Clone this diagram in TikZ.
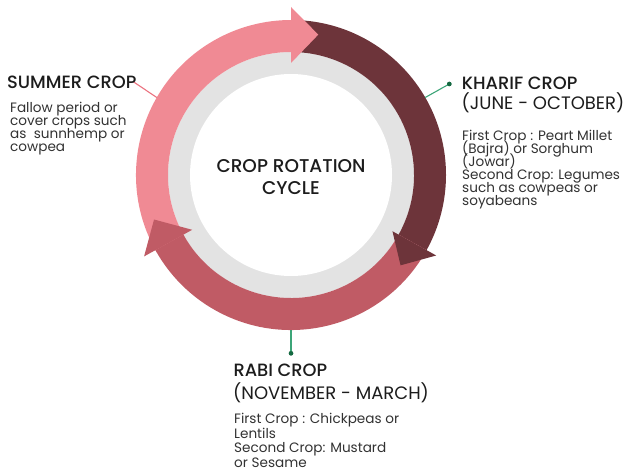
\documentclass[tikz,border=0pt]{standalone}
\usepackage{fontspec}
\setmainfont{Poppins}
\newfontfamily\headf{Poppins Medium}
\newcommand\mytightlines{\lineskiplimit=-100pt\relax\lineskip=0pt\relax}
\definecolor{pinkA}{RGB}{240,138,148}
\definecolor{maroonA}{RGB}{109,52,58}
\definecolor{redA}{RGB}{192,91,101}
\definecolor{ringgray}{RGB}{227,227,227}
\definecolor{txt}{RGB}{28,28,28}
\definecolor{bodytxt}{RGB}{50,50,50}
\definecolor{leadgreen}{RGB}{60,165,120}
\definecolor{dotgreen}{RGB}{20,105,65}
\definecolor{leadpink}{RGB}{235,115,128}
\begin{document}
\begin{tikzpicture}[x=1pt,y=1pt,
  headtxt/.style={font=\headf\fontsize{17.8}{20}\selectfont, text=txt, inner sep=0, anchor=base west},
  subtxt/.style={font=\fontsize{18}{20}\selectfont, text=txt, inner sep=0, anchor=base west},
  bodytext/.style={text=bodytxt, inner sep=0, anchor=base west, align=left},
  dotn/.style={circle, fill=dotgreen, inner sep=0, minimum size=4.5pt},
  leadline/.style={line width=1.1pt}]
\useasboundingbox (0,0) rectangle (628,472);
\coordinate (C) at (291,297);
% rings
\fill[ringgray] (C) circle (123);
\fill[white] (C) circle (101);
% bands
\fill[pinkA] ([shift={(210:155)}]C) arc[start angle=210,end angle=90,radius=155]
  -- ([shift={(90:123)}]C) arc[start angle=90,end angle=210,radius=123] -- cycle;
\fill[maroonA] ([shift={(90:155)}]C) arc[start angle=90,end angle=-29,radius=155]
  -- ([shift={(-29:123)}]C) arc[start angle=-29,end angle=90,radius=123] -- cycle;
\fill[redA] ([shift={(-29:155)}]C) arc[start angle=-29,end angle=-151,radius=155]
  -- ([shift={(-151:123)}]C) arc[start angle=-151,end angle=-29,radius=123] -- cycle;
% heads
\fill[pinkA] ([shift={(90:168)}]C) -- ([shift={(79:143)}]C) -- ([shift={(90:112)}]C) -- cycle;
\fill[maroonA] ([shift={(-29:166)}]C) -- ([shift={(-39.5:142)}]C) -- ([shift={(-29:116)}]C) -- cycle;
\fill[redA] ([shift={(-151:168)}]C) -- ([shift={(-162:144)}]C) -- ([shift={(-151:113)}]C) -- cycle;
% centre text
\node[font=\headf\fontsize{18.5}{21.3}\selectfont, text=txt, align=center, anchor=base, inner sep=0] (title) at (291,278) {CROP ROTATION\\CYCLE};
% leader lines
\coordinate (sumA) at ([shift={(150:155)}]C);
\coordinate (sumB) at (133.3,390.3);
\draw[leadline, leadpink] (sumA) -- (sumB);
\coordinate (kharA) at ([shift={(30:155)}]C);
\node[dotn] (kharD) at (449.3,388) {};
\draw[leadline, leadgreen] (kharA) -- (kharD.center);
\node[dotn] (kharD2) at (449.3,388) {};
\coordinate (rabiA) at ([shift={(270:155)}]C);
\node[dotn] (rabiD) at (291,118.7) {};
\draw[leadline, leadgreen] (rabiA) -- (rabiD.center);
\node[dotn] (rabiD2) at (291,118.7) {};
% texts
\node[headtxt] (sumH) at (7,383.7) {SUMMER CROP};
\node[bodytext, font=\fontsize{13.6}{13.2}\selectfont\mytightlines] (sumB2) at (10,320.3) {Fallow period or\\cover crops such\\as\ \ sunnhemp or\\cowpea};
\node[headtxt] (kharH) at (461.7,382) {KHARIF CROP};
\node[subtxt] (kharS) at (461.5,362) {(JUNE - OCTOBER)};
\node[bodytext, font=\fontsize{13.6}{13}\selectfont\mytightlines] (kharB) at (462,266.5) {First Crop : Peart Millet\\(Bajra) or Sorghum\\(Jowar)\\Second Crop: Legumes\\such as cowpeas or\\soyabeans};
\node[headtxt] (rabiH) at (233.3,96) {RABI CROP};
\node[subtxt] (rabiS) at (233,72.7) {(NOVEMBER - MARCH)};
\node[bodytext, font=\fontsize{13.6}{14.6}\selectfont\mytightlines] (rabiB) at (234,4.5) {First Crop : Chickpeas or\\Lentils\\Second Crop: Mustard\\or Sesame};
\end{tikzpicture}
\end{document}
